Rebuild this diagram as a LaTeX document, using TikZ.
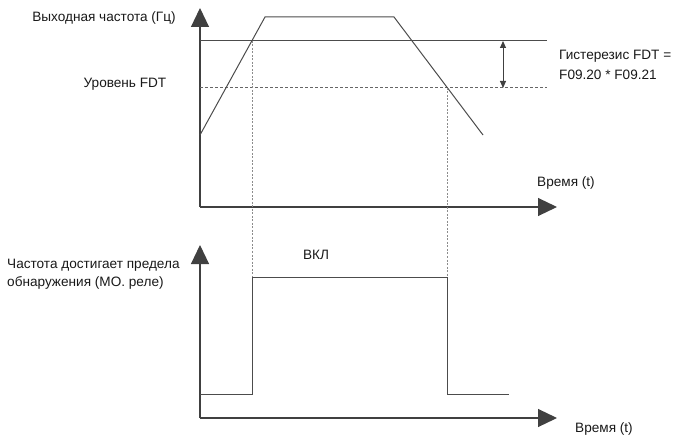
\documentclass[tikz,border=0pt]{standalone}
\usepackage{fontspec}
\setmainfont{Liberation Sans}
\usetikzlibrary{arrows.meta}
\tikzset{
  axis/.style={line width=1.1pt,draw=black!75,-{Triangle[length=19pt,width=18pt]}},
  curve/.style={line width=1pt,draw=black!70},
  level/.style={line width=1pt,draw=black!60,dash pattern=on 3pt off 2pt},
  guide/.style={line width=0.8pt,draw=black!45,dash pattern=on 2pt off 1.5pt},
  lbl/.style={font=\fontsize{13.6}{20}\selectfont,text=black!90,inner sep=0pt}
}
\begin{document}
\begin{tikzpicture}[x=1pt,y=-1pt]
  \useasboundingbox (0,0) rectangle (676,435);
  % top axes
  \coordinate (O1) at (200,207);
  \coordinate (Y1) at (200,8);
  \coordinate (X1) at (557,207);
  \draw[axis] (O1) -- (Y1);
  \draw[axis] (O1) -- (X1);
  % bottom axes
  \coordinate (O2) at (200,418);
  \coordinate (Y2) at (200,245);
  \coordinate (X2) at (557,418);
  \draw[axis] (O2) -- (Y2);
  \draw[axis] (O2) -- (X2);
  % threshold and FDT level
  \coordinate (H0) at (200,41);
  \coordinate (H1) at (547,41);
  \coordinate (L0) at (200,88);
  \coordinate (L1) at (547,88);
  \draw[curve] (H0) -- (H1);
  \draw[level] (L0) -- (L1);
  % output frequency
  \coordinate (F0) at (200,135);
  \coordinate (F1) at (265,17);
  \coordinate (F2) at (394,17);
  \coordinate (F3) at (483,135);
  \draw[curve] (F0) -- (F1) -- (F2) -- (F3);
  % relay signal
  \coordinate (R0) at (200,394);
  \coordinate (R1) at (252,394);
  \coordinate (P1) at (252,277);
  \coordinate (P2) at (447,277);
  \coordinate (R2) at (447,394);
  \coordinate (R3) at (509,394);
  \draw[curve] (R0) -- (R1) -- (P1) -- (P2) -- (R2) -- (R3);
  % switch points
  \coordinate (S1) at (252,41);
  \coordinate (S2) at (447,88);
  \draw[guide] (S1) -- (P1);
  \draw[guide] (S2) -- (P2);
  % hysteresis band
  \coordinate (B0) at (503,41);
  \coordinate (B1) at (503,88);
  \draw[line width=1pt,draw=black!75,{Triangle[length=7pt,width=6pt]}-{Triangle[length=7pt,width=6pt]}] (B0) -- (B1);
  % labels
  \node[lbl] (fout) at (104,18) {Выходная частота (Гц)};
  \node[lbl] (fdt) at (125,84) {Уровень FDT};
  \node[lbl,anchor=west,align=left] (hyst) at (559,65) {Гистерезис FDT =\\F09.20 * F09.21};
  \node[lbl] (t1) at (566,183) {Время (t)};
  \node[lbl] (on) at (316,255) {ВКЛ};
  \node[lbl,anchor=west,align=left,font=\fontsize{13.6}{18}\selectfont] (relay) at (7,274) {Частота достигает предела\\обнаружения (МО. реле)};
  \node[lbl] (t2) at (604,429) {Время (t)};
\end{tikzpicture}
\end{document}
